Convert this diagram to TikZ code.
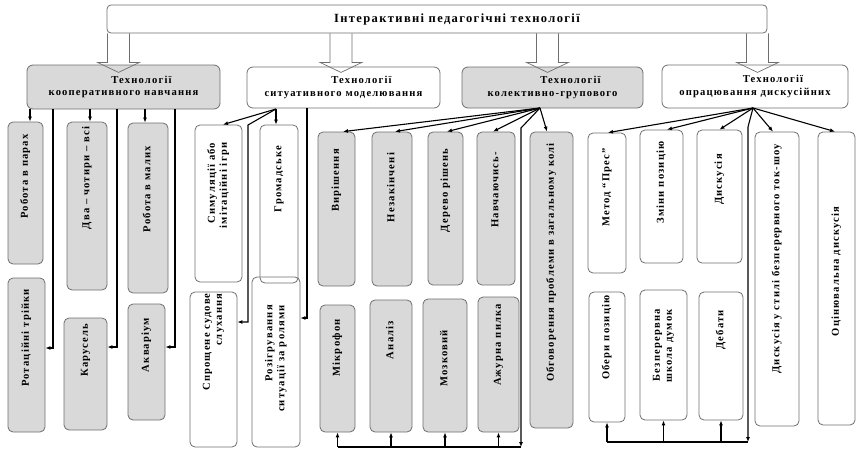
\documentclass[tikz,border=0pt]{standalone}
\usepackage{fontspec}
\setmainfont{Liberation Serif}[LetterSpace=11]
\usetikzlibrary{arrows.meta,positioning}
\definecolor{boxgray}{RGB}{217,217,217}
\definecolor{edgegray}{RGB}{110,110,110}
\newcommand{\firstind}{\hspace*{36pt}}
\newcommand{\vtext}[2]{\rotatebox{90}{\hspace*{#1pt}\begin{tabular}{@{}r@{}}#2\end{tabular}}}

\begin{document}
\begin{tikzpicture}[
    x=1pt, y=-1pt,
    every node/.style={font=\bfseries\fontsize{10.6}{11.8}\selectfont},
    head/.style={draw=edgegray, rounded corners=4pt, line width=0.8pt, align=center, inner sep=0pt, font=\bfseries\fontsize{12.5}{14}\selectfont},
    group/.style={draw=edgegray, rounded corners=6pt, line width=0.8pt, align=center, inner sep=0pt, font=\bfseries\fontsize{10.6}{12.5}\selectfont},
    groupgray/.style={group, fill=boxgray},
    leaf/.style={draw=edgegray, rounded corners=5pt, line width=0.8pt, inner sep=0pt},
    leafgray/.style={leaf, fill=boxgray},
    wide/.style={draw=edgegray, line width=0.7pt},
    link/.style={-{Latex[length=5pt,width=4pt]}, line width=1.1pt},
    bus/.style={line width=1.1pt}
]
\useasboundingbox (0,0) rectangle (857,450);

\node[head, minimum width=660pt, minimum height=28pt] (top) at (437,19) {\hspace*{40pt}Інтерактивні педагогічні технології};

\node[groupgray, minimum width=193pt, minimum height=44pt] (coop) at (123.5,87) {\firstind Технології\\кооперативного навчання};
\node[group, minimum width=193pt, minimum height=41pt] (situ) at (343.5,87.5) {\firstind Технології\\ситуативного моделювання};
\node[groupgray, minimum width=181pt, minimum height=41pt] (koll) at (552.5,87.5) {\firstind Технології\\колективно-групового};
\node[group, minimum width=186pt, minimum height=43pt] (disk) at (755,86.5) {\firstind Технології\\опрацювання дискусійних};

% block arrows from the title
\foreach \x in {118.5,341,547.5,757.5}
  \draw[wide] (top.south -| \x,0) ++(-11,0) -- ++(0,29) -- ++(-10,0) -- ++(21,10) -- ++(21,-10) -- ++(-10,0) -- ++(0,-29);

% cooperative learning
\node[leafgray, minimum width=35pt, minimum height=142pt] (parah) at (25.5,193) {\vtext{33}{Робота в парах}};
\node[leafgray, minimum width=37pt, minimum height=154pt] (triyky) at (26.5,355) {\vtext{34}{Ротаційні трійки}};
\node[leafgray, minimum width=40pt, minimum height=168pt] (dva) at (87,206) {\vtext{56}{Два – чотири – всі}};
\node[leafgray, minimum width=43pt, minimum height=112pt] (karusel) at (85.5,374) {\vtext{48}{Карусель}};
\node[leafgray, minimum width=40pt, minimum height=170pt] (malykh) at (148,208) {\vtext{38}{Робота в малих}};
\node[leafgray, minimum width=37pt, minimum height=116pt] (akvarium) at (146.5,362) {\vtext{34}{Акваріум}};

% situational modelling
\node[leaf, minimum width=47pt, minimum height=157pt] (symul) at (218.5,203.5) {\vtext{36}{Симуляції або\\імітаційні ігри}};
\node[leaf, minimum width=38pt, minimum height=158pt] (hromad) at (279,204) {\vtext{50}{Громадське}};
\node[leaf, minimum width=47pt, minimum height=155pt] (sprosh) at (213.5,369.5) {\vtext{55}{Спрощене судове\\слухання}};
\node[leaf, minimum width=48pt, minimum height=170pt] (rozihr) at (276,362) {\vtext{7}{Розігрування\\ситуації за ролями}};

% collective-group
\node[leafgray, minimum width=37pt, minimum height=154pt] (vyrish) at (336.5,209) {\vtext{57}{Вирішення}};
\node[leafgray, minimum width=40pt, minimum height=154pt] (nezak) at (392,209) {\vtext{43}{Незакінчені}};
\node[leafgray, minimum width=35pt, minimum height=153pt] (derevo) at (445.5,208.5) {\vtext{36}{Дерево рішень}};
\node[leafgray, minimum width=38pt, minimum height=153pt] (navch) at (496,208.5) {\vtext{37}{Навчаючись-}};
\node[leafgray, minimum width=43pt, minimum height=296pt] (obhovor) at (551.5,280) {\vtext{35}{Обговорення проблеми в загальному колі}};
\node[leafgray, minimum width=35pt, minimum height=127pt] (mikro) at (337.5,368.5) {\vtext{41}{Мікрофон}};
\node[leafgray, minimum width=42pt, minimum height=132pt] (analiz) at (391,366) {\vtext{52}{Аналіз}};
\node[leafgray, minimum width=44pt, minimum height=133pt] (mozk) at (445,365.5) {\vtext{14}{Мозковий}};
\node[leafgray, minimum width=41pt, minimum height=135pt] (azhur) at (498.5,364.5) {\vtext{39}{Ажурна пилка}};

% discussion
\node[leaf, minimum width=38pt, minimum height=140pt] (pres) at (607,203) {\vtext{31}{Метод “Прес”}};
\node[leaf, minimum width=43pt, minimum height=133pt] (zminy) at (661.5,196.5) {\vtext{28}{Зміни позицію}};
\node[leaf, minimum width=45pt, minimum height=133pt] (dyskus) at (719.5,196.5) {\vtext{34}{Дискусія}};
\node[leaf, minimum width=44pt, minimum height=294pt] (tokshow) at (777,279) {\vtext{40}{Дискусія у стилі безперервного ток-шоу}};
\node[leaf, minimum width=37pt, minimum height=293pt] (otsin) at (836.5,278.5) {\vtext{14}{Оцінювальна дискусія}};
\node[leaf, minimum width=36pt, minimum height=130pt] (oberi) at (607,357) {\vtext{39}{Обери позицію}};
\node[leaf, minimum width=47pt, minimum height=130pt] (bezper) at (663.5,355) {\vtext{18}{Безперервна\\школа думок}};
\node[leaf, minimum width=44pt, minimum height=128pt] (debaty) at (721,356) {\vtext{52}{Дебати}};

% links: cooperative
\coordinate (c1a) at (30,109);
\coordinate (c1b) at (53,109);
\coordinate (c1c) at (90,109);
\coordinate (c1d) at (117,109);
\coordinate (c1e) at (145,109);
\coordinate (c1f) at (175,109);
\draw[link] (c1a) -- (c1a |- parah.north);
\draw[link] (c1b) |- (triyky.east |- 0,348);
\draw[link] (c1c) -- (c1c |- dva.north);
\draw[link] (c1d) |- (karusel.east |- 0,347);
\draw[link] (c1e) -- (c1e |- malykh.north);
\draw[link] (c1f) |- (akvarium.east |- 0,347);

% links: situational
\coordinate (c2) at (276,109);
\coordinate (c2bend) at (248,125);
\coordinate (c2r) at (307,108);
\draw[link] (c2) -- ([xshift=4.5pt]symul.north);
\draw[link] (c2) -- (c2 |- hromad.north);
\draw[link] (c2) -- (c2bend) |- (sprosh.east |- 0,322);
\draw[link] (c2r) |- (rozihr.east |- 0,318);

% links: collective-group
\coordinate (c3) at (540,108);
\coordinate (c3bend) at (521,128);
\coordinate (c3foot) at (521,447);
\draw[link] (c3) -- ([xshift=6.5pt]vyrish.north);
\draw[link] (c3) -- ([xshift=3pt]nezak.north);
\draw[link] (c3) -- ([xshift=1.5pt]derevo.north);
\draw[link] (c3) -- ([xshift=-3pt]navch.north);
\draw[link] (c3) -- ([xshift=-4.5pt]obhovor.north);
\draw[link] (c3) -- (c3bend) -- (c3foot);
\draw[bus] (c3foot) -- (mikro.south |- c3foot);
\foreach \n in {mikro,analiz,mozk,azhur}
  \draw[link] (\n.south |- c3foot) -- (\n.south);

% links: discussion
\coordinate (c4) at (753,108);
\coordinate (c4bend) at (748,127);
\coordinate (c4foot) at (748,442);
\draw[link] (c4) -- ([xshift=1pt]pres.north);
\draw[link] (c4) -- ([xshift=5.5pt]zminy.north);
\draw[link] (c4) -- (dyskus.north);
\draw[link] (c4) -- ([xshift=-4pt]tokshow.north);
\draw[link] (c4) -- ([xshift=-1.5pt]otsin.north);
\draw[link] (c4) -- (c4bend) -- (c4foot);
\draw[bus] (c4foot) -- (oberi.south |- c4foot);
\foreach \n in {oberi,bezper,debaty}
  \draw[link] (\n.south |- c4foot) -- (\n.south);
\end{tikzpicture}
\end{document}
